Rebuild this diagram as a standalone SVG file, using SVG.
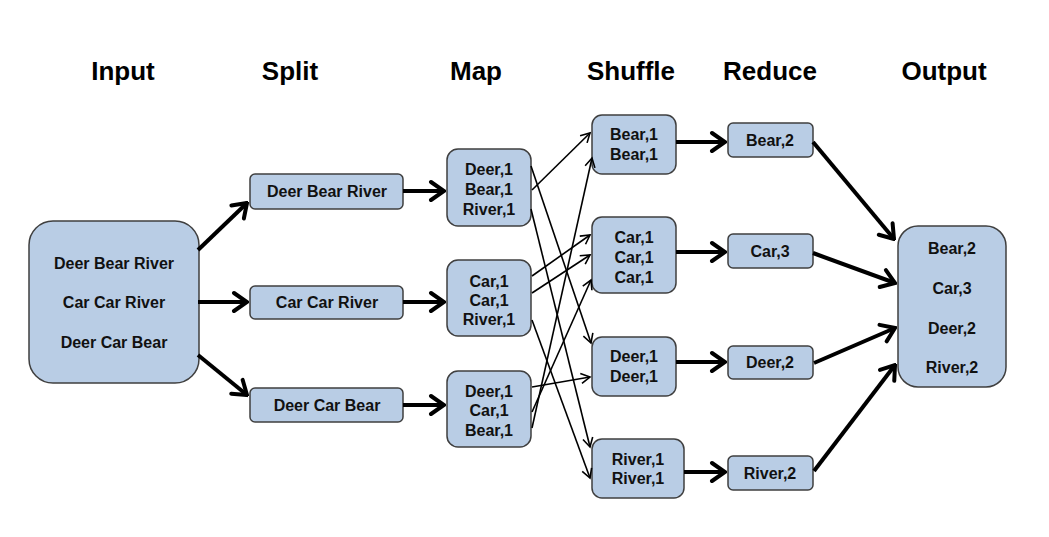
<svg xmlns="http://www.w3.org/2000/svg" width="1049" height="537" viewBox="0 0 1049 537">
<style>
.box{fill:#b9cde5;stroke:#3f3f3f;stroke-width:1.5}
.t{font-family:"Liberation Sans",Arial,sans-serif;font-weight:bold;font-size:16px;fill:#111;text-anchor:middle}
.h{font-family:"Liberation Sans",Arial,sans-serif;font-weight:bold;font-size:26px;fill:#000;text-anchor:middle}
.thick{stroke:#000;stroke-width:4;fill:none;marker-end:url(#big)}
.thin{stroke:#000;stroke-width:1.6;fill:none;marker-end:url(#small)}
</style>
<defs>
<marker id="big" markerUnits="userSpaceOnUse" viewBox="-18 -12 20 24" markerWidth="20" markerHeight="24" refX="0" refY="0" orient="auto">
<path d="M-13,-9 L0,0 L-13,9" fill="none" stroke="#000" stroke-width="4" stroke-linecap="round"/>
</marker>
<marker id="small" markerUnits="userSpaceOnUse" viewBox="-12 -8 14 16" markerWidth="14" markerHeight="16" refX="0" refY="0" orient="auto">
<path d="M-9,-5 L0,0 L-9,5" fill="none" stroke="#000" stroke-width="1.6"/>
</marker>
</defs>
<rect width="1049" height="537" fill="#fff"/>
<g id="titles">
<text class="h" x="123" y="80">Input</text>
<text class="h" x="290" y="80">Split</text>
<text class="h" x="476" y="80">Map</text>
<text class="h" x="631" y="80">Shuffle</text>
<text class="h" x="770" y="80">Reduce</text>
<text class="h" x="944" y="80">Output</text>
</g>
<g id="input">
<rect class="box" x="29" y="221" width="170" height="162" rx="24"/>
<text class="t" x="114" y="269">Deer Bear River</text>
<text class="t" x="114" y="308">Car Car River</text>
<text class="t" x="114" y="348">Deer Car Bear</text>
</g>
<g id="split1"><rect class="box" x="250" y="174" width="153" height="35" rx="5"/><text class="t" x="327" y="197">Deer Bear River</text></g>
<g id="split2"><rect class="box" x="250" y="286" width="153" height="33" rx="5"/><text class="t" x="327" y="308">Car Car River</text></g>
<g id="split3"><rect class="box" x="250" y="388" width="153" height="34" rx="5"/><text class="t" x="327" y="411">Deer Car Bear</text></g>
<g id="map1"><rect class="box" x="447" y="149" width="84" height="77" rx="11"/>
<text class="t" x="489" y="175">Deer,1</text><text class="t" x="489" y="195">Bear,1</text><text class="t" x="489" y="215">River,1</text></g>
<g id="map2"><rect class="box" x="447" y="260" width="84" height="76" rx="11"/>
<text class="t" x="489" y="287">Car,1</text><text class="t" x="489" y="306">Car,1</text><text class="t" x="489" y="325">River,1</text></g>
<g id="map3"><rect class="box" x="447" y="371" width="84" height="76" rx="11"/>
<text class="t" x="489" y="397">Deer,1</text><text class="t" x="489" y="416">Car,1</text><text class="t" x="489" y="436">Bear,1</text></g>
<g id="shuffle1"><rect class="box" x="592" y="115" width="84" height="59" rx="10"/>
<text class="t" x="634" y="140">Bear,1</text><text class="t" x="634" y="160">Bear,1</text></g>
<g id="shuffle2"><rect class="box" x="592" y="217" width="84" height="76" rx="10"/>
<text class="t" x="634" y="243">Car,1</text><text class="t" x="634" y="263">Car,1</text><text class="t" x="634" y="283">Car,1</text></g>
<g id="shuffle3"><rect class="box" x="592" y="337" width="84" height="59" rx="10"/>
<text class="t" x="634" y="362">Deer,1</text><text class="t" x="634" y="382">Deer,1</text></g>
<g id="shuffle4"><rect class="box" x="592" y="439" width="92" height="59" rx="10"/>
<text class="t" x="638" y="465">River,1</text><text class="t" x="638" y="484">River,1</text></g>
<g id="reduce1"><rect class="box" x="728" y="123" width="85" height="34" rx="5"/><text class="t" x="770" y="146">Bear,2</text></g>
<g id="reduce2"><rect class="box" x="728" y="234" width="85" height="34" rx="5"/><text class="t" x="770" y="257">Car,3</text></g>
<g id="reduce3"><rect class="box" x="728" y="346" width="85" height="33" rx="5"/><text class="t" x="770" y="368">Deer,2</text></g>
<g id="reduce4"><rect class="box" x="728" y="456" width="85" height="34" rx="5"/><text class="t" x="770" y="479">River,2</text></g>
<g id="output"><rect class="box" x="898" y="226" width="108" height="161" rx="20"/>
<text class="t" x="952" y="254">Bear,2</text><text class="t" x="952" y="294">Car,3</text><text class="t" x="952" y="334">Deer,2</text><text class="t" x="952" y="373">River,2</text></g>
<g id="connectors">
<line class="thick" x1="198" y1="250" x2="247" y2="203"/>
<line class="thick" x1="198" y1="302" x2="247" y2="302"/>
<line class="thick" x1="198" y1="355" x2="247" y2="395"/>
<line class="thick" x1="403" y1="191" x2="444" y2="191"/>
<line class="thick" x1="403" y1="302" x2="444" y2="302"/>
<line class="thick" x1="403" y1="405" x2="444" y2="405"/>
<line class="thick" x1="676" y1="142" x2="725" y2="142"/>
<line class="thick" x1="676" y1="252" x2="725" y2="252"/>
<line class="thick" x1="676" y1="362" x2="725" y2="362"/>
<line class="thick" x1="684" y1="472" x2="725" y2="472"/>
<line class="thick" x1="813" y1="142" x2="894" y2="239"/>
<line class="thick" x1="813" y1="253" x2="895" y2="283"/>
<line class="thick" x1="814" y1="363" x2="895" y2="328"/>
<line class="thick" x1="814" y1="471" x2="895" y2="365"/>
<line class="thin" x1="531" y1="166" x2="591" y2="343"/>
<line class="thin" x1="532" y1="190" x2="590" y2="133"/>
<line class="thin" x1="531" y1="209" x2="590" y2="447"/>
<line class="thin" x1="532" y1="276" x2="590" y2="235"/>
<line class="thin" x1="532" y1="293" x2="590" y2="255"/>
<line class="thin" x1="532" y1="320" x2="590" y2="478"/>
<line class="thin" x1="532" y1="387" x2="590" y2="377"/>
<line class="thin" x1="532" y1="412" x2="591" y2="280"/>
<line class="thin" x1="532" y1="428" x2="592" y2="158"/>
</g>
</svg>
